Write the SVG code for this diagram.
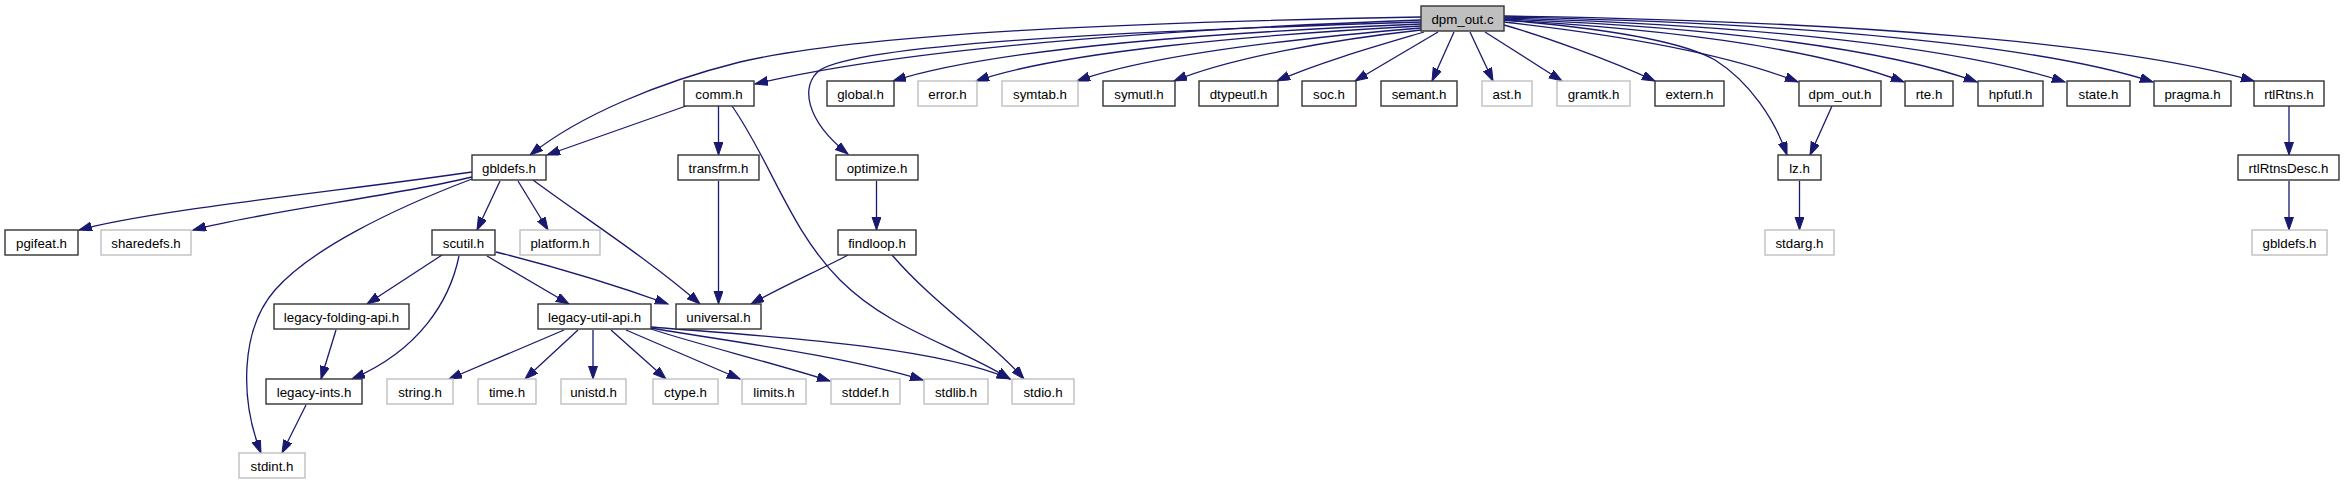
<svg xmlns="http://www.w3.org/2000/svg" width="2345" height="485" viewBox="0 0 2345 485">
<style>
.n rect{fill:#ffffff;stroke:#333333;stroke-width:1.4}
.g rect{fill:#ffffff;stroke:#bfbfbf;stroke-width:1.4}
.r rect{fill:#bfbfbf;stroke:#333333;stroke-width:1.4}
text{font-family:"Liberation Sans",Arial,Helvetica,sans-serif;font-size:13.3px;fill:#000000;text-anchor:middle}
#edges path{fill:none;stroke:#191970;stroke-width:1.3;marker-end:url(#ah)}
</style>
<defs>
<marker id="ah" markerWidth="14" markerHeight="10" refX="13" refY="4.5" orient="auto" markerUnits="userSpaceOnUse">
<path d="M0,0 L13,4.5 L0,9 z" fill="#191970" stroke="#191970" stroke-width="1"/>
</marker>
</defs>
<rect x="0" y="0" width="2345" height="485" fill="#ffffff"/>
<g id="edges">
<path d="M1421,17 C1150,22 870,32 740,62 C660,82 580,115 530,155"/>
<path d="M1421,20 C1150,30 900,50 755,84"/>
<path d="M1421,22 C1100,32 860,45 820,70 C800,85 805,120 848,154"/>
<path d="M1421,24 C1200,33 990,50 893,81"/>
<path d="M1421,26 C1250,35 1060,52 976,81"/>
<path d="M1421,28 C1300,38 1150,55 1077,81"/>
<path d="M1421,30 C1330,40 1230,58 1174,81"/>
<path d="M1424,32 C1380,45 1320,62 1277,81"/>
<path d="M1438,32 L1355,81"/>
<path d="M1454,32 L1432,81"/>
<path d="M1470,32 L1493,81"/>
<path d="M1485,32 L1562,81"/>
<path d="M1504,25 C1540,35 1610,60 1655,81"/>
<path d="M1504,20 C1600,28 1680,40 1715,60 C1750,82 1775,120 1787,155"/>
<path d="M1504,22 C1620,35 1730,55 1798,82"/>
<path d="M1504,20 C1680,30 1820,50 1904,82"/>
<path d="M1504,19 C1720,27 1890,50 1977,82"/>
<path d="M1504,18 C1760,25 1960,48 2065,82"/>
<path d="M1504,17 C1800,23 2040,45 2153,82"/>
<path d="M1504,16 C1850,21 2120,43 2254,81"/>
<path d="M686,106 L547,155"/>
<path d="M718.5,106 L718.5,155"/>
<path d="M732,106 C770,160 790,230 840,280 C890,330 955,345 1010,379"/>
<path d="M472,172 C350,190 150,210 79,230"/>
<path d="M472,177 C400,195 260,212 193,230"/>
<path d="M472,179 C390,210 310,250 275,290 C240,330 240,400 261,453"/>
<path d="M500,181 L477,230"/>
<path d="M518,181 L548,230"/>
<path d="M533,180 C580,215 650,260 700,304"/>
<path d="M718.5,181 L718.5,304"/>
<path d="M876.5,181 L876.5,230"/>
<path d="M848,255 C820,270 785,285 751,304"/>
<path d="M892,255 C935,305 990,340 1024,379"/>
<path d="M442,255 L367,304"/>
<path d="M459,256 C450,300 420,350 352,379"/>
<path d="M487,256 L569,304"/>
<path d="M496,252 C560,268 615,285 668,304"/>
<path d="M336,330 L321,379"/>
<path d="M306,405 L282,453"/>
<path d="M564,330 L449,379"/>
<path d="M578,330 L525,379"/>
<path d="M593,330 L593,379"/>
<path d="M611,330 L666,379"/>
<path d="M626,330 L740,379"/>
<path d="M651,329 C700,345 770,362 830,381"/>
<path d="M651,328 C720,340 840,355 923,380"/>
<path d="M651,327 C760,336 930,345 1010,379"/>
<path d="M1832,106 L1810,155"/>
<path d="M1799.5,181 L1799.5,230"/>
<path d="M2289,106 L2289,155"/>
<path d="M2289,181 L2289,230"/>
</g>
<g id="node-dpm_out_c" class="r"><rect x="1421" y="6" width="83" height="25"/><text x="1462.5" y="23.5">dpm_out.c</text></g>
<g id="node-comm_h" class="n"><rect x="684" y="81" width="70" height="25"/><text x="719" y="98.5">comm.h</text></g>
<g id="node-global_h" class="n"><rect x="827" y="81" width="67" height="25"/><text x="860.5" y="98.5">global.h</text></g>
<g id="node-error_h" class="g"><rect x="918" y="81" width="59" height="25"/><text x="947.5" y="98.5">error.h</text></g>
<g id="node-symtab_h" class="g"><rect x="1002" y="81" width="76" height="25"/><text x="1040" y="98.5">symtab.h</text></g>
<g id="node-symutl_h" class="n"><rect x="1103" y="81" width="72" height="25"/><text x="1139" y="98.5">symutl.h</text></g>
<g id="node-dtypeutl_h" class="n"><rect x="1199" y="81" width="79" height="25"/><text x="1238.5" y="98.5">dtypeutl.h</text></g>
<g id="node-soc_h" class="n"><rect x="1302" y="81" width="54" height="25"/><text x="1329" y="98.5">soc.h</text></g>
<g id="node-semant_h" class="n"><rect x="1381" y="81" width="76" height="25"/><text x="1419" y="98.5">semant.h</text></g>
<g id="node-ast_h" class="g"><rect x="1482" y="81" width="50" height="25"/><text x="1507" y="98.5">ast.h</text></g>
<g id="node-gramtk_h" class="g"><rect x="1557" y="81" width="73" height="25"/><text x="1593.5" y="98.5">gramtk.h</text></g>
<g id="node-extern_h" class="n"><rect x="1655" y="81" width="69" height="25"/><text x="1689.5" y="98.5">extern.h</text></g>
<g id="node-dpm_out_h" class="n"><rect x="1799" y="81" width="82" height="25"/><text x="1840" y="98.5">dpm_out.h</text></g>
<g id="node-rte_h" class="n"><rect x="1905" y="81" width="48" height="25"/><text x="1929" y="98.5">rte.h</text></g>
<g id="node-hpfutl_h" class="n"><rect x="1978" y="81" width="65" height="25"/><text x="2010.5" y="98.5">hpfutl.h</text></g>
<g id="node-state_h" class="n"><rect x="2067" y="81" width="63" height="25"/><text x="2098.5" y="98.5">state.h</text></g>
<g id="node-pragma_h" class="n"><rect x="2154" y="81" width="77" height="25"/><text x="2192.5" y="98.5">pragma.h</text></g>
<g id="node-rtlRtns_h" class="n"><rect x="2254" y="81" width="70" height="25"/><text x="2289" y="98.5">rtlRtns.h</text></g>
<g id="node-gbldefs_h" class="n"><rect x="472" y="155" width="74" height="25"/><text x="509" y="172.5">gbldefs.h</text></g>
<g id="node-transfrm_h" class="n"><rect x="678" y="155" width="81" height="25"/><text x="718.5" y="172.5">transfrm.h</text></g>
<g id="node-optimize_h" class="n"><rect x="836" y="155" width="82" height="25"/><text x="877" y="172.5">optimize.h</text></g>
<g id="node-lz_h" class="n"><rect x="1778" y="155" width="43" height="25"/><text x="1799.5" y="172.5">lz.h</text></g>
<g id="node-rtlRtnsDesc_h" class="n"><rect x="2238" y="155" width="101" height="25"/><text x="2288.5" y="172.5">rtlRtnsDesc.h</text></g>
<g id="node-pgifeat_h" class="n"><rect x="5" y="230" width="73" height="25"/><text x="41.5" y="247.5">pgifeat.h</text></g>
<g id="node-sharedefs_h" class="g"><rect x="101" y="230" width="90" height="25"/><text x="146" y="247.5">sharedefs.h</text></g>
<g id="node-scutil_h" class="n"><rect x="432" y="230" width="63" height="25"/><text x="463.5" y="247.5">scutil.h</text></g>
<g id="node-platform_h" class="g"><rect x="520" y="230" width="80" height="25"/><text x="560" y="247.5">platform.h</text></g>
<g id="node-findloop_h" class="n"><rect x="838" y="230" width="78" height="25"/><text x="877" y="247.5">findloop.h</text></g>
<g id="node-stdarg_h" class="g"><rect x="1765" y="230" width="69" height="25"/><text x="1799.5" y="247.5">stdarg.h</text></g>
<g id="node-gbldefs_h_sys" class="g"><rect x="2252" y="230" width="75" height="25"/><text x="2289.5" y="247.5">gbldefs.h</text></g>
<g id="node-legacy_folding_api_h" class="n"><rect x="274" y="304" width="135" height="25"/><text x="341.5" y="321.5">legacy-folding-api.h</text></g>
<g id="node-legacy_util_api_h" class="n"><rect x="538" y="304" width="113" height="25"/><text x="594.5" y="321.5">legacy-util-api.h</text></g>
<g id="node-universal_h" class="n"><rect x="676" y="304" width="85" height="25"/><text x="718.5" y="321.5">universal.h</text></g>
<g id="node-legacy_ints_h" class="n"><rect x="266" y="379" width="96" height="25"/><text x="314" y="396.5">legacy-ints.h</text></g>
<g id="node-string_h" class="g"><rect x="387" y="379" width="66" height="25"/><text x="420" y="396.5">string.h</text></g>
<g id="node-time_h" class="g"><rect x="478" y="379" width="58" height="25"/><text x="507" y="396.5">time.h</text></g>
<g id="node-unistd_h" class="g"><rect x="561" y="379" width="65" height="25"/><text x="593.5" y="396.5">unistd.h</text></g>
<g id="node-ctype_h" class="g"><rect x="653" y="379" width="65" height="25"/><text x="685.5" y="396.5">ctype.h</text></g>
<g id="node-limits_h" class="g"><rect x="742" y="379" width="64" height="25"/><text x="774" y="396.5">limits.h</text></g>
<g id="node-stddef_h" class="g"><rect x="831" y="379" width="69" height="25"/><text x="865.5" y="396.5">stddef.h</text></g>
<g id="node-stdlib_h" class="g"><rect x="924" y="379" width="64" height="25"/><text x="956" y="396.5">stdlib.h</text></g>
<g id="node-stdio_h" class="g"><rect x="1012" y="379" width="62" height="25"/><text x="1043" y="396.5">stdio.h</text></g>
<g id="node-stdint_h" class="g"><rect x="239" y="453" width="66" height="25"/><text x="272" y="470.5">stdint.h</text></g>
</svg>
